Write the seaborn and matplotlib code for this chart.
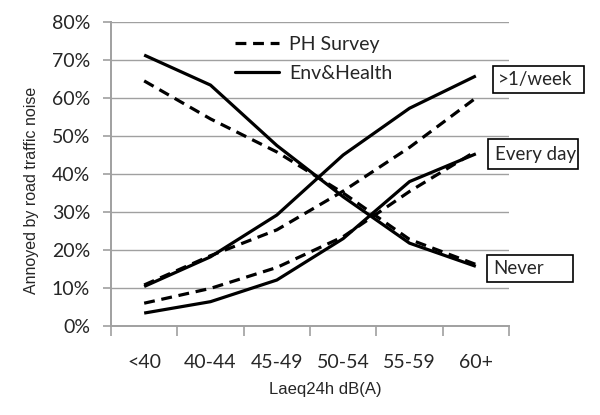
import matplotlib
matplotlib.use("Agg")
import matplotlib.pyplot as plt
from matplotlib.patches import Rectangle
from matplotlib.lines import Line2D
from matplotlib.ticker import PercentFormatter, FixedLocator
from matplotlib.font_manager import FontProperties
import seaborn as sns
import pandas as pd

categories = ['<40', '40-44', '45-49', '50-54', '55-59', '60+']
ph_never = [64.5, 54.5, 45.8, 35.0, 22.8, 16.2]
eh_never = [71.3, 63.4, 47.5, 34.0, 21.8, 15.7]
ph_everyday = [6.0, 9.9, 15.4, 23.5, 35.4, 46.0]
eh_everyday = [3.4, 6.4, 12.1, 23.0, 38.0, 45.3]
ph_week = [10.8, 18.5, 25.3, 35.5, 47.0, 60.0]
eh_week = [10.4, 18.2, 29.2, 45.0, 57.3, 65.8]
sources = ['PH Survey', 'Env&Health']
levels = ['>1/week', 'Every day', 'Never']

series = {
    ('PH Survey', 'Never'): ph_never,
    ('Env&Health', 'Never'): eh_never,
    ('PH Survey', 'Every day'): ph_everyday,
    ('Env&Health', 'Every day'): eh_everyday,
    ('PH Survey', '>1/week'): ph_week,
    ('Env&Health', '>1/week'): eh_week,
}
rows = []
for (src, lvl), vals in series.items():
    for c, v in zip(categories, vals):
        rows.append({'category': c, 'value': v, 'source': src, 'level': lvl})
df = pd.DataFrame(rows)

sns.set_style('white')
plt.rcParams['font.family'] = ['Lato', 'DejaVu Sans']

W, H = 600, 415
fig = plt.figure(figsize=(6.0, 4.15), dpi=100)
ax = fig.add_axes([111 / W, 1 - 326 / H, (509 - 111) / W, (326 - 22) / H])

dash_map = {'PH Survey': (3.4, 2.1), 'Env&Health': (None, None)}
for (src, lvl), sub in df.groupby(['source', 'level'], sort=False):
    kw = dict(color='black', linewidth=2.3, ax=ax, legend=False, sort=False)
    line_ax = sns.lineplot(data=sub, x='category', y='value', **kw)
    ln = line_ax.lines[-1]
    if src == 'PH Survey':
        ln.set_dashes(dash_map[src])
    ln.set_solid_capstyle('butt')

ax.set_xlim(-0.5, len(categories) - 0.5)
ax.set_ylim(0, 80)
ax.yaxis.set_major_locator(FixedLocator(range(0, 81, 10)))
ax.yaxis.set_major_formatter(PercentFormatter(xmax=100, decimals=0))
ax.set_xticks(range(len(categories)))
ax.set_xticklabels(categories)
ax.set_xticks([i - 0.5 for i in range(len(categories) + 1)], minor=True)
ax.tick_params(axis='x', which='major', length=0, pad=20, labelsize=14)
ax.tick_params(axis='x', which='minor', length=7, width=1.2, color='#a0a0a0', direction='out', bottom=True)
ax.tick_params(axis='y', which='major', length=6, width=1.2, color='#a0a0a0', direction='out', left=True, pad=9, labelsize=14)

ax.grid(axis='y', color='#a0a0a0', linewidth=1.0)
ax.grid(axis='x', visible=False)
ax.set_axisbelow(True)
for s in ['top', 'right']:
    ax.spines[s].set_visible(False)
for s in ['left', 'bottom']:
    ax.spines[s].set_color('#a0a0a0')
    ax.spines[s].set_linewidth(1.4)

arial_x = FontProperties(family=['Liberation Sans', 'DejaVu Sans'], size=12)
arial_y = FontProperties(family=['Liberation Sans', 'DejaVu Sans'], size=11.5)
ax.set_xlabel('Laeq24h dB(A)', fontproperties=arial_x)
ax.xaxis.set_label_coords((325 - 111) / (509 - 111), -(389 - 326) / (326 - 22), transform=ax.transAxes)
ax.xaxis.label.set_va('center')
ax.set_ylabel('Annoyed by road traffic noise', fontproperties=arial_y)
ax.yaxis.set_label_coords(-(111 - 32) / (509 - 111), (326 - 190) / (326 - 22), transform=ax.transAxes)
ax.yaxis.label.set_va('center')

handles = [Line2D([0], [0], color='black', lw=2.3, dashes=dash_map['PH Survey']),
           Line2D([0], [0], color='black', lw=2.3)]
fig.legend(handles, sources, loc='upper left', bbox_to_anchor=(235 / W, 1 - 36 / H),
           frameon=False, fontsize=14, handlelength=2.27, handletextpad=0.5,
           labelspacing=0.6, borderpad=0, borderaxespad=0)

boxes = [
    ('>1/week', 493, 66, 584, 93, 498),
    ('Every day', 488, 139, 578, 169, 495),
    ('Never', 487, 255, 573, 282, 493),
]
for label, x0, y0, x1, y1, tx in boxes:
    fig.add_artist(Rectangle((x0 / W, 1 - y1 / H), (x1 - x0) / W, (y1 - y0) / H,
                             transform=fig.transFigure, fill=False, ec='black', lw=1.2))
    fig.text(tx / W, 1 - ((y0 + y1) / 2) / H, label, ha='left', va='center', fontsize=13.5)

fig.savefig('out.png', dpi=100, facecolor='white')
